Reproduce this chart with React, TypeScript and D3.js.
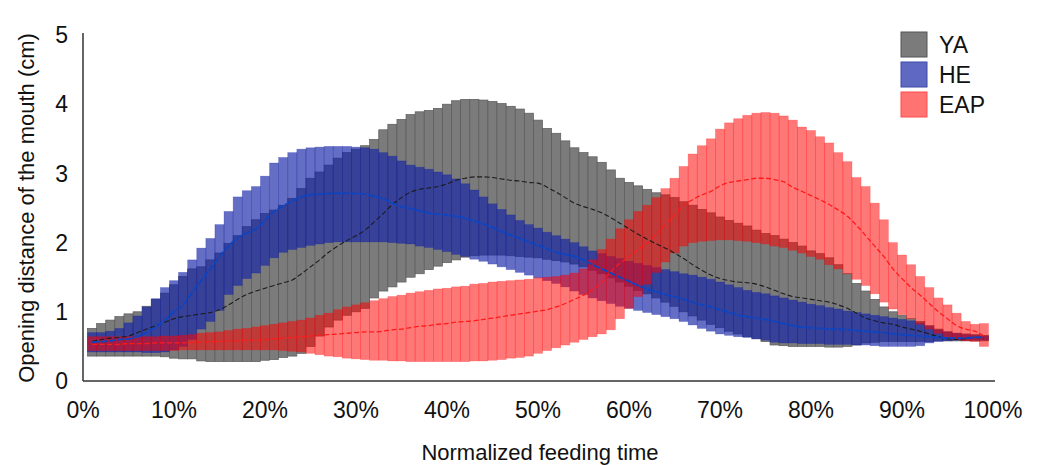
import React from "react";
import * as d3 from "d3";

// Normalized feeding time, one bar per percent (1% .. 99%)
const xTicks = [0, 10, 20, 30, 40, 50, 60, 70, 80, 90, 100];
const yTicks = [0, 1, 2, 3, 4, 5];
const seriesNames = ["YA", "HE", "EAP"];

const yaHigh = [
  0.76, 0.83, 0.88, 0.93, 0.97, 1.0, 1.08, 1.18, 1.27, 1.39,
  1.51, 1.62, 1.65, 1.75, 1.85, 1.99, 2.1, 2.23, 2.33, 2.42,
  2.47, 2.54, 2.64, 2.78, 2.93, 3.02, 3.12, 3.22, 3.3, 3.35,
  3.4, 3.49, 3.63, 3.71, 3.78, 3.85, 3.89, 3.91, 3.94, 4.0,
  4.05, 4.07, 4.07, 4.06, 4.04, 4.01, 3.97, 3.93, 3.87, 3.77,
  3.65, 3.58, 3.47, 3.37, 3.3, 3.24, 3.16, 3.05, 2.93, 2.87,
  2.82, 2.77, 2.72, 2.69, 2.65, 2.59, 2.54, 2.48, 2.43, 2.37,
  2.32, 2.28, 2.24, 2.18, 2.13, 2.1, 2.05, 2.0, 1.95, 1.88,
  1.84, 1.78, 1.68, 1.55, 1.41, 1.3, 1.18, 1.07, 1.0, 0.95,
  0.9, 0.86, 0.8, 0.75, 0.71, 0.69, 0.68, 0.67, 0.66,
];
const yaLow = [
  0.36, 0.36, 0.36, 0.36, 0.36, 0.36, 0.36, 0.36, 0.35, 0.33,
  0.32, 0.32, 0.29, 0.28, 0.28, 0.28, 0.28, 0.28, 0.28, 0.3,
  0.31, 0.34, 0.36, 0.4, 0.5, 0.65, 0.78, 0.88, 0.95, 1.0,
  1.05, 1.2, 1.3, 1.36, 1.43, 1.5, 1.55, 1.61, 1.66, 1.71,
  1.75, 1.79, 1.81, 1.82, 1.82, 1.82, 1.81, 1.8, 1.79, 1.78,
  1.76, 1.74, 1.72, 1.69, 1.65, 1.6, 1.55, 1.49, 1.43, 1.37,
  1.31, 1.26, 1.2, 1.14, 1.08, 1.0, 0.94, 0.88, 0.82, 0.77,
  0.72, 0.68, 0.64, 0.61, 0.57, 0.52, 0.51, 0.5, 0.5, 0.5,
  0.5, 0.49, 0.49, 0.5, 0.52, 0.55, 0.56, 0.57, 0.57, 0.57,
  0.57, 0.57, 0.57, 0.58, 0.58, 0.58, 0.58, 0.58, 0.58,
];
const yaMean = [
  0.57, 0.6, 0.62, 0.63, 0.65, 0.7, 0.75, 0.8, 0.85, 0.9,
  0.93, 0.95, 0.97, 0.99, 1.03, 1.1, 1.18, 1.25, 1.3, 1.34,
  1.38, 1.42, 1.46, 1.55, 1.65, 1.75, 1.86, 1.95, 2.03, 2.1,
  2.18, 2.3, 2.42, 2.55, 2.65, 2.73, 2.77, 2.79, 2.81, 2.85,
  2.9, 2.93, 2.95, 2.95, 2.94, 2.92, 2.9, 2.89, 2.87, 2.86,
  2.8, 2.73, 2.65, 2.57, 2.52, 2.48, 2.43, 2.36, 2.28, 2.2,
  2.12, 2.05, 1.98, 1.92, 1.85, 1.77, 1.68, 1.6, 1.53, 1.48,
  1.45, 1.43, 1.42, 1.4, 1.36, 1.31, 1.26, 1.22, 1.2, 1.18,
  1.16, 1.14, 1.1, 1.05, 0.98, 0.91, 0.87, 0.84, 0.82, 0.78,
  0.75, 0.72, 0.68, 0.64, 0.61, 0.6, 0.61, 0.63, 0.62,
];

const heHigh = [
  0.7, 0.7, 0.72, 0.76, 0.84, 0.94, 1.07, 1.19, 1.35, 1.45,
  1.57, 1.75, 1.92, 2.06, 2.26, 2.45, 2.66, 2.75, 2.81, 2.96,
  3.15, 3.23, 3.3, 3.35, 3.37, 3.38, 3.39, 3.39, 3.39, 3.38,
  3.37, 3.35, 3.3, 3.25, 3.18, 3.12, 3.09, 3.06, 3.02, 2.98,
  2.92, 2.85, 2.76, 2.66, 2.56, 2.48, 2.4, 2.32, 2.26, 2.21,
  2.15, 2.1, 2.05, 2.0, 1.94, 1.88, 1.84, 1.8, 1.77, 1.73,
  1.7, 1.67, 1.64, 1.61, 1.58, 1.55, 1.53, 1.5, 1.47, 1.43,
  1.39, 1.35, 1.31, 1.28, 1.26, 1.23, 1.2, 1.17, 1.14, 1.11,
  1.09, 1.06, 1.04, 1.01, 0.99, 0.97, 0.95, 0.93, 0.91, 0.89,
  0.87, 0.84, 0.79, 0.74, 0.71, 0.69, 0.67, 0.66, 0.65,
];
const heLow = [
  0.42, 0.42, 0.42, 0.42, 0.42, 0.42, 0.41, 0.41, 0.42, 0.45,
  0.5, 0.6, 0.75, 0.86, 1.02, 1.25, 1.38, 1.48, 1.56, 1.67,
  1.78, 1.86, 1.9, 1.93, 1.96, 1.98, 2.0, 2.01, 2.01, 2.01,
  2.01, 2.01, 2.01, 2.0, 1.99, 1.98, 1.95, 1.93, 1.9, 1.87,
  1.83, 1.8, 1.76, 1.73, 1.69, 1.65, 1.61, 1.57, 1.53, 1.49,
  1.45, 1.41, 1.36, 1.3, 1.25, 1.2, 1.16, 1.12, 1.08, 1.05,
  1.02, 0.99, 0.96, 0.93, 0.9, 0.86, 0.81, 0.76, 0.72, 0.68,
  0.66, 0.64, 0.63, 0.61, 0.59, 0.56, 0.55, 0.55, 0.54, 0.54,
  0.54, 0.53, 0.53, 0.53, 0.52, 0.52, 0.51, 0.5, 0.5, 0.5,
  0.5, 0.51, 0.55, 0.57, 0.58, 0.59, 0.59, 0.59, 0.59,
];
const heMean = [
  0.56, 0.57, 0.58, 0.6, 0.61, 0.64, 0.7, 0.78, 0.88, 1.0,
  1.1, 1.28, 1.45, 1.62, 1.8, 1.95, 2.07, 2.14, 2.2, 2.32,
  2.45, 2.53, 2.6, 2.66, 2.69, 2.7, 2.71, 2.71, 2.71, 2.71,
  2.7, 2.67, 2.63, 2.57, 2.52, 2.49, 2.46, 2.43, 2.41, 2.4,
  2.38, 2.35, 2.31, 2.27, 2.22, 2.16, 2.11, 2.06, 2.01, 1.96,
  1.91, 1.86, 1.83, 1.8, 1.75, 1.68, 1.62, 1.56, 1.5, 1.44,
  1.38, 1.33, 1.29, 1.25, 1.22, 1.18, 1.14, 1.1, 1.07, 1.03,
  0.99, 0.95, 0.93, 0.91, 0.89, 0.86, 0.83, 0.8, 0.78, 0.77,
  0.76, 0.75, 0.75, 0.74, 0.73, 0.72, 0.71, 0.7, 0.68, 0.67,
  0.66, 0.65, 0.64, 0.63, 0.62, 0.62, 0.62, 0.63, 0.63,
];

const eapHigh = [
  0.64, 0.64, 0.64, 0.64, 0.64, 0.64, 0.64, 0.64, 0.65, 0.65,
  0.66, 0.67, 0.69, 0.7, 0.71, 0.73, 0.75, 0.76, 0.78, 0.8,
  0.82, 0.84, 0.86, 0.88, 0.91, 0.95, 0.98, 1.03, 1.07, 1.1,
  1.13, 1.16, 1.19, 1.22, 1.24, 1.27, 1.29, 1.31, 1.33, 1.34,
  1.36, 1.37, 1.4, 1.41, 1.43, 1.44, 1.45, 1.46, 1.47, 1.49,
  1.5, 1.51, 1.53, 1.56, 1.62, 1.75, 1.9, 2.05, 2.2, 2.33,
  2.45, 2.54, 2.65, 2.78, 2.93, 3.1, 3.28, 3.4, 3.5, 3.64,
  3.73, 3.79, 3.84, 3.87, 3.88, 3.87, 3.83, 3.77, 3.67, 3.62,
  3.53, 3.44, 3.3, 3.17, 2.94, 2.81, 2.57, 2.33, 2.0, 1.82,
  1.68, 1.51, 1.35, 1.2, 1.1, 0.98, 0.86, 0.82, 0.83,
];
const eapLow = [
  0.44, 0.44, 0.44, 0.44, 0.44, 0.44, 0.44, 0.44, 0.44, 0.44,
  0.45, 0.45, 0.45, 0.45, 0.45, 0.45, 0.45, 0.45, 0.45, 0.45,
  0.45, 0.44, 0.43, 0.42, 0.4, 0.38, 0.36, 0.35, 0.33, 0.32,
  0.31, 0.3, 0.3, 0.29, 0.29, 0.28, 0.28, 0.28, 0.28, 0.28,
  0.28, 0.28, 0.29, 0.29, 0.3, 0.31, 0.33, 0.34, 0.36, 0.4,
  0.44, 0.48, 0.52, 0.56, 0.6, 0.64, 0.68, 0.74, 0.9, 1.05,
  1.22, 1.4, 1.57, 1.72, 1.85, 1.95, 2.0, 2.02, 2.03, 2.04,
  2.04, 2.03, 2.02, 2.0, 1.98, 1.95, 1.93, 1.89, 1.85, 1.8,
  1.76, 1.68, 1.62, 1.55, 1.47, 1.38, 1.26, 1.14, 1.04, 0.96,
  0.9, 0.82, 0.75, 0.69, 0.64, 0.6, 0.58, 0.57, 0.5,
];
const eapMean = [
  0.53, 0.53, 0.53, 0.53, 0.54, 0.54, 0.54, 0.55, 0.55, 0.55,
  0.55, 0.56, 0.56, 0.57, 0.57, 0.58, 0.58, 0.59, 0.59, 0.6,
  0.61, 0.62, 0.63, 0.64, 0.65, 0.66, 0.67, 0.68, 0.69, 0.7,
  0.71, 0.71, 0.72, 0.74, 0.75, 0.77, 0.79, 0.8, 0.82, 0.83,
  0.85, 0.86, 0.87, 0.89, 0.91, 0.93, 0.95, 0.97, 0.99, 1.01,
  1.03, 1.07, 1.12, 1.18, 1.24, 1.32, 1.42, 1.58, 1.7, 1.8,
  1.9, 1.99, 2.12, 2.26, 2.4, 2.54, 2.62, 2.69, 2.74, 2.82,
  2.87, 2.89, 2.91, 2.93, 2.93, 2.91, 2.88, 2.8, 2.74, 2.68,
  2.62, 2.55, 2.47, 2.38, 2.25, 2.1, 1.95, 1.8, 1.62, 1.48,
  1.35, 1.24, 1.12, 1.0, 0.9, 0.8, 0.75, 0.72, 0.65,
];

const W = 1042;
const H = 465;
const FONT = "'Liberation Sans', Arial, Helvetica, sans-serif";

const x = d3.scaleLinear().domain([0, 100]).range([83, 993]);
const y = d3.scaleLinear().domain([0, 5]).range([381, 35]);
const barW = x(1) - x(0);

type Band = { name: string; low: number[]; high: number[]; mean: number[]; fill: string; fillOpacity: number; stroke: string; strokeOpacity: number; line: string; lineWidth: number; dash: string };

const bands: Band[] = [
  { name: seriesNames[0], low: yaLow, high: yaHigh, mean: yaMean, fill: "#7b7b7b", fillOpacity: 1, stroke: "#5a5a5a", strokeOpacity: 1, line: "#1c1c1c", lineWidth: 1.1, dash: "5,2.5" },
  { name: seriesNames[1], low: heLow, high: heHigh, mean: heMean, fill: "rgb(20,35,165)", fillOpacity: 0.66, stroke: "rgb(20,35,165)", strokeOpacity: 0.35, line: "#0b45c4", lineWidth: 1.8, dash: "7,1.5" },
  { name: seriesNames[2], low: eapLow, high: eapHigh, mean: eapMean, fill: "#ff0000", fillOpacity: 0.53, stroke: "#ff0000", strokeOpacity: 0.3, line: "#ff1a1a", lineWidth: 1.3, dash: "5,2.5" },
];

const legendFill = ["#7b7b7b", "rgb(96,105,194)", "#ff7373"];
const legendStroke = ["#555555", "#3a4aa8", "#ff4a4a"];

export default function App() {
  const lineGen = d3
    .line<number>()
    .x((_, i) => x(i + 1))
    .y((d) => y(d))
    .curve(d3.curveMonotoneX);

  return (
    <svg width={W} height={H} style={{ position: "absolute", left: 0, top: 0, background: "#fff" }} fontFamily={FONT}>
      <rect x={0} y={0} width={W} height={H} fill="#fff" />
      {bands.map((b) => (
        <g key={b.name}>
          {b.high.map((hi, i) => (
            <rect
              key={i}
              x={x(i + 1) - barW / 2}
              y={y(hi)}
              width={barW}
              height={y(b.low[i]) - y(hi)}
              fill={b.fill}
              fillOpacity={b.fillOpacity}
              stroke={b.stroke}
              strokeOpacity={b.strokeOpacity}
              strokeWidth={0.7}
            />
          ))}
        </g>
      ))}
      {bands.map((b) => (
        <path key={b.name + "-line"} d={lineGen(b.mean) || ""} fill="none" stroke={b.line} strokeWidth={b.lineWidth} strokeDasharray={b.dash} />
      ))}
      {/* axes */}
      <line x1={x(0)} x2={x(0)} y1={33} y2={y(0)} stroke="#333" strokeWidth={1.5} />
      <line x1={x(0)} x2={995} y1={y(0)} y2={y(0)} stroke="#333" strokeWidth={1.5} />
      {yTicks.map((t) => (
        <text key={t} x={68} y={y(t)} dy="0.36em" textAnchor="end" fontSize={23} fill="#111">
          {t}
        </text>
      ))}
      {xTicks.map((t) => (
        <text key={t} x={x(t)} y={418} textAnchor="middle" fontSize={23} fill="#111">
          {t + "%"}
        </text>
      ))}
      <text x={540} y={460} textAnchor="middle" fontSize={22} fill="#111">
        Normalized feeding time
      </text>
      <text transform={`translate(34,${y(2.5)}) rotate(-90)`} textAnchor="middle" fontSize={22} fill="#111">
        Opening distance of the mouth (cm)
      </text>
      {/* legend */}
      {seriesNames.map((n, i) => (
        <g key={n} transform={`translate(901,${32 + i * 30})`}>
          <rect x={0} y={0} width={26} height={25} fill={legendFill[i]} stroke={legendStroke[i]} strokeWidth={1} />
          <text x={38} y={21} fontSize={23} fill="#111">
            {n}
          </text>
        </g>
      ))}
    </svg>
  );
}
